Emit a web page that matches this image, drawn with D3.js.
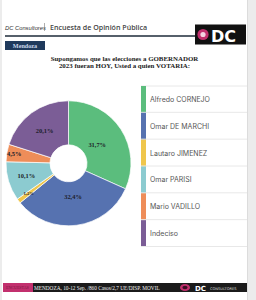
<!DOCTYPE html>
<html>
<head>
<meta charset="utf-8">
<script src="https://cdn.jsdelivr.net/npm/d3@7"></script>
<style>
  html, body { margin: 0; padding: 0; background: #ececec; }
  svg { display: block; }
</style>
</head>
<body>
<svg id="chart" width="256" height="300"></svg>
<script>
// datos de la encuesta
const candidatos = ['Alfredo CORNEJO', 'Omar DE MARCHI', 'Lautaro JIMENEZ', 'Omar PARISI', 'Mario VADILLO', 'Indeciso']
const porcentajes = [31.7, 32.4, 1.2, 10.1, 4.5, 20.1]
const colores = ['#5bbd7d', '#5672b0', '#efc64c', '#8ccbd0', '#ee8d59', '#7b5d96']
const titulo = ['Supongamos que las elecciones a GOBERNADOR', '2023 fueran HOY, Usted a quien VOTARIA:']
const pie_fuente = 'MENDOZA, 10-12 Sep. /860 Casos/2,7 UE/DISP. MOVIL'

const svg = d3.select('#chart')

// hoja blanca
svg.append('rect').attr('x', 2).attr('y', 0).attr('width', 245).attr('height', 300).attr('fill', '#fff')
svg.append('line').attr('x1', 247.5).attr('x2', 247.5).attr('y1', 0).attr('y2', 300).attr('stroke', '#dcdcdc')

// encabezado
svg.append('text').text('DC Consultores')
  .attr('x', 5).attr('y', 29.5)
  .attr('font-family', 'Liberation Sans').attr('font-style', 'italic')
  .attr('font-size', '5.8px').attr('fill', '#333')
svg.append('line').attr('x1', 44.5).attr('x2', 44.5).attr('y1', 23).attr('y2', 31).attr('stroke', '#777').attr('stroke-width', 0.6)
svg.append('text').text('Encuesta de Opinión Pública')
  .attr('x', 50).attr('y', 30.3)
  .attr('font-family', 'Open Sans').attr('font-weight', 600)
  .attr('font-size', '7.1px').attr('fill', '#444')
svg.append('line').attr('x1', 5).attr('x2', 200).attr('y1', 36).attr('y2', 36).attr('stroke', '#1e2b3a').attr('stroke-width', 1.6)

// logo DC
const logo = svg.append('g')
logo.append('rect').attr('x', 195).attr('y', 24.5).attr('width', 51).attr('height', 20).attr('fill', '#111')
logo.append('circle').attr('cx', 203).attr('cy', 34.5).attr('r', 5.6).attr('fill', '#c2306e')
logo.append('circle').attr('cx', 203).attr('cy', 34.5).attr('r', 2.6).attr('fill', '#f4d3e2')
logo.append('text').text('DC')
  .attr('x', 211).attr('y', 41.5)
  .attr('font-family', 'DejaVu Sans').attr('font-weight', 'bold')
  .attr('font-size', '16px').attr('fill', '#fff')

// etiqueta Mendoza
svg.append('rect').attr('x', 5).attr('y', 41).attr('width', 40).attr('height', 9).attr('fill', '#1f3a5c')
svg.append('text').text('Mendoza')
  .attr('x', 25).attr('y', 48).attr('text-anchor', 'middle')
  .attr('font-family', 'Liberation Serif').attr('font-weight', 'bold')
  .attr('font-size', '6.2px').attr('fill', '#c9d6ea')

// titulo
svg.append('text')
  .attr('font-family', 'Liberation Serif').attr('font-weight', 'bold')
  .attr('font-size', '6.9px').attr('fill', '#222').attr('text-anchor', 'middle')
  .selectAll('tspan').data(titulo).join('tspan')
  .attr('x', 124.5).attr('y', (d, i) => 61.3 + i * 7)
  .text(d => d)

// dona
const cx = 68.5, cy = 163.3
const datos = candidatos.map((c, i) => ({ nombre: c, valor: porcentajes[i], color: colores[i] }))
const pie = d3.pie().value(d => d.valor).sort(null)
const arc = d3.arc().innerRadius(18.5).outerRadius(62.5)
// radio de etiqueta segun tamaño de la porcion
const radioEtiqueta = d3.scaleLinear().domain([1.2, 4.5, 10.1, 20.1, 32]).range([50, 55, 44, 40.5, 34]).clamp(true)

const dona = svg.append('g').attr('transform', `translate(${cx},${cy})`)
const arcos = pie(datos)
dona.selectAll('path').data(arcos).join('path')
  .attr('d', arc)
  .attr('fill', d => d.data.color)
  .attr('stroke', '#fff').attr('stroke-width', 0.7)

dona.selectAll('text').data(arcos).join('text')
  .attr('transform', d => {
    const r = radioEtiqueta(d.data.valor)
    const a = (d.startAngle + d.endAngle) / 2
    return `translate(${r * Math.sin(a)},${-r * Math.cos(a)})`
  })
  .attr('text-anchor', 'middle').attr('dy', '0.35em')
  .attr('font-family', 'Liberation Serif').attr('font-weight', 'bold')
  .attr('font-size', d => d.data.valor < 2 ? '4.6px' : '6.4px')
  .attr('fill', '#1d1d2b')
  .text(d => d3.format('.1f')(d.data.valor).replace('.', ',') + '%')

// leyenda
const y = d3.scaleBand().domain(candidatos).range([86, 247])
const leyenda = svg.append('g')
leyenda.append('line').attr('x1', 141).attr('x2', 247).attr('y1', 86).attr('y2', 86).attr('stroke', '#e8e8e8')
const filas = leyenda.selectAll('g').data(datos).join('g')
  .attr('transform', d => `translate(0,${y(d.nombre)})`)
filas.append('rect')
  .attr('x', 141).attr('width', 5).attr('height', y.bandwidth())
  .attr('fill', d => d.color)
filas.append('line')
  .attr('x1', 141).attr('x2', 247).attr('y1', y.bandwidth() - 0.5).attr('y2', y.bandwidth() - 0.5)
  .attr('stroke', '#e8e8e8')
filas.append('text')
  .attr('x', 150).attr('y', y.bandwidth() / 2 + 2.5)
  .attr('font-family', 'Inter').attr('font-size', '7px').attr('fill', '#555')
  .text(d => d.nombre)

// pie de pagina
const pie_g = svg.append('g')
pie_g.append('rect').attr('x', 3).attr('y', 283).attr('width', 244).attr('height', 9).attr('fill', '#1b1b1b')
pie_g.append('rect').attr('x', 3).attr('y', 283).attr('width', 30).attr('height', 9).attr('fill', '#c2306e')
pie_g.append('text').text('ENCUESTAS')
  .attr('x', 6).attr('y', 289.3)
  .attr('font-family', 'Liberation Serif').attr('font-size', '4px').attr('fill', '#7a1640')
pie_g.append('text').text(pie_fuente)
  .attr('x', 34).attr('y', 289.7)
  .attr('font-family', 'Liberation Serif').attr('font-size', '5.3px').attr('fill', '#f2f2f2')
pie_g.append('ellipse').attr('cx', 185).attr('cy', 287.5).attr('rx', 5).attr('ry', 3.6).attr('fill', '#c2306e')
pie_g.append('ellipse').attr('cx', 185).attr('cy', 287.5).attr('rx', 2.6).attr('ry', 1.7).attr('fill', '#3a0f22')
pie_g.append('text').text('DC')
  .attr('x', 195).attr('y', 290.5)
  .attr('font-family', 'DejaVu Sans').attr('font-weight', 'bold')
  .attr('font-size', '7px').attr('fill', '#fff')
pie_g.append('text').text('CONSULTORES')
  .attr('x', 210).attr('y', 289.8)
  .attr('font-family', 'DejaVu Sans')
  .attr('font-size', '3.6px').attr('fill', '#ddd')
</script>
</body>
</html>
